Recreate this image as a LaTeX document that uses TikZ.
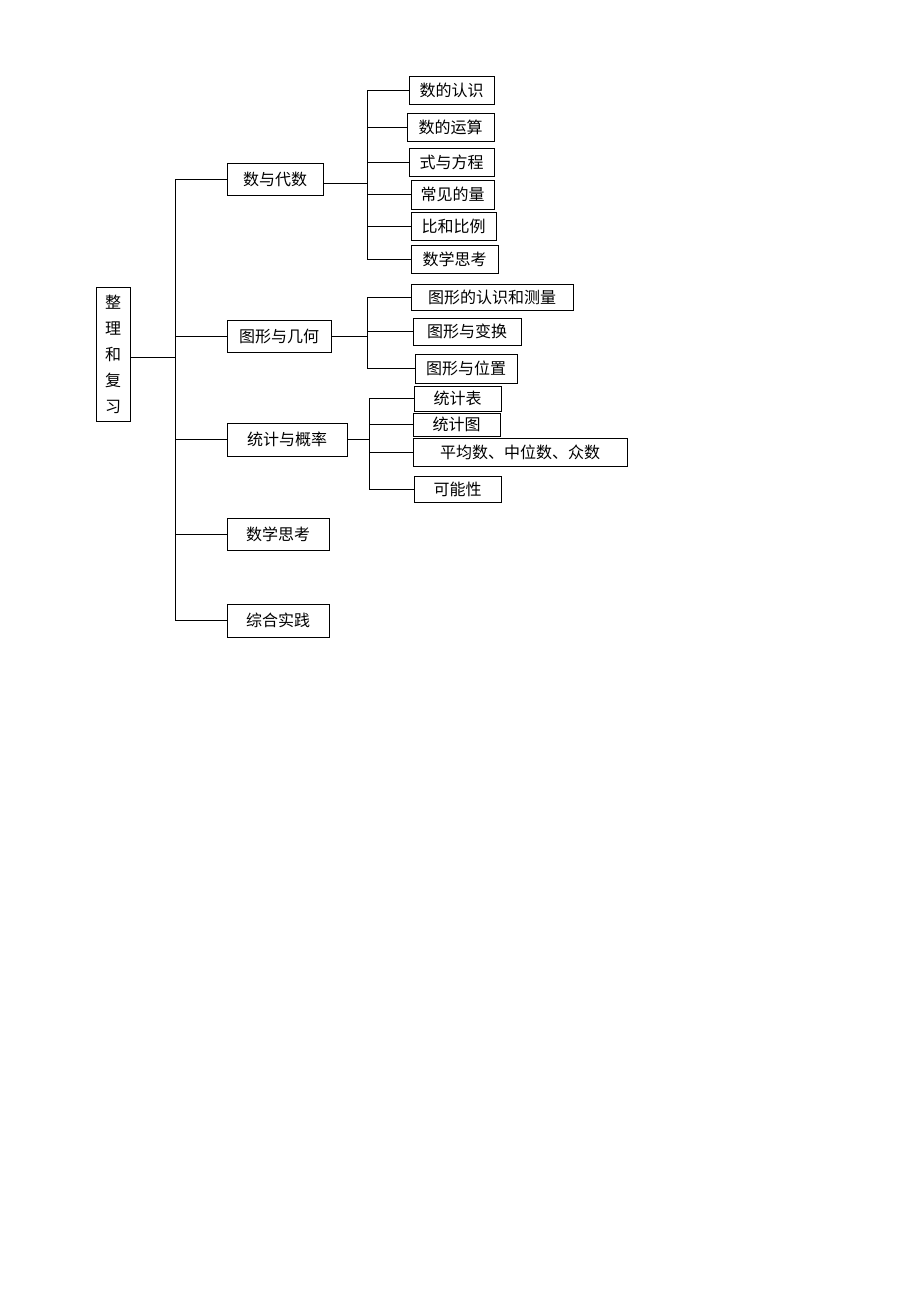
\documentclass[tikz,border=0pt]{standalone}
\usepackage{fontspec}
\newfontfamily\cjk{Noto Sans CJK SC}
\begin{document}
\begin{tikzpicture}[x=1pt,y=-1pt,
  box/.style={draw,line width=0.8pt,inner sep=0pt,font=\cjk\fontsize{16}{18}\selectfont},
  ln/.style={line width=0.7pt}]
\useasboundingbox (0,0) rectangle (920,1302);
\newcommand\bx[6]{\node[box,minimum width=#4,minimum height=#5] (#1) at (#2,#3) {#6};}
\node[box,minimum width=34,minimum height=134,align=center,font=\cjk\fontsize{16}{26}\selectfont] (root) at (113,354) {整\\理\\和\\复\\习};
\bx{a}{275}{179}{96}{32}{数与代数}
\bx{b}{279}{336}{104}{32}{图形与几何}
\bx{c}{287}{439.5}{120}{33}{统计与概率}
\bx{d}{278}{534}{102}{32}{数学思考}
\bx{e}{278}{620.5}{102}{33}{综合实践}
\bx{a1}{451.5}{90}{85}{28}{数的认识}
\bx{a2}{450.5}{127}{87}{28}{数的运算}
\bx{a3}{451.5}{162}{85}{28}{式与方程}
\bx{a4}{452.5}{194.5}{83}{29}{常见的量}
\bx{a5}{453.5}{226}{85}{28}{比和比例}
\bx{a6}{454.5}{259}{87}{28}{数学思考}
\bx{b1}{492}{297}{162}{26}{图形的认识和测量}
\bx{b2}{467}{331.5}{108}{27}{图形与变换}
\bx{b3}{466}{368.5}{102}{29}{图形与位置}
\bx{c1}{457.5}{398.5}{87}{25}{统计表}
\bx{c2}{456.5}{424.5}{87}{23}{统计图}
\bx{c3}{520}{452}{214}{28}{平均数、中位数、众数}
\bx{c4}{457.5}{489}{87}{26}{可能性}
% trunk
\coordinate (t0) at (175,357);
\draw[ln] (root.east|-t0) -- (t0);
\draw[ln] (175,179) -- (175,620);
\foreach \n in {a,b,c,d,e} \draw[ln] (\n.west) -- (\n.west-|t0);
% groups
\coordinate (g1) at (367,183);
\draw[ln] (a.east|-g1) -- (g1);
\draw[ln] (367,90) -- (367,259);
\foreach \n in {a1,a2,a3,a4,a5,a6} \draw[ln] (\n.west) -- (\n.west-|g1);
\coordinate (g2) at (367,336);
\draw[ln] (b.east) -- (g2);
\draw[ln] (367,297) -- (367,368.5);
\foreach \n in {b1,b2,b3} \draw[ln] (\n.west) -- (\n.west-|g2);
\coordinate (g3) at (369,439.5);
\draw[ln] (c.east) -- (g3);
\draw[ln] (369,398.5) -- (369,489);
\foreach \n in {c1,c2,c3,c4} \draw[ln] (\n.west) -- (\n.west-|g3);
\end{tikzpicture}
\end{document}
